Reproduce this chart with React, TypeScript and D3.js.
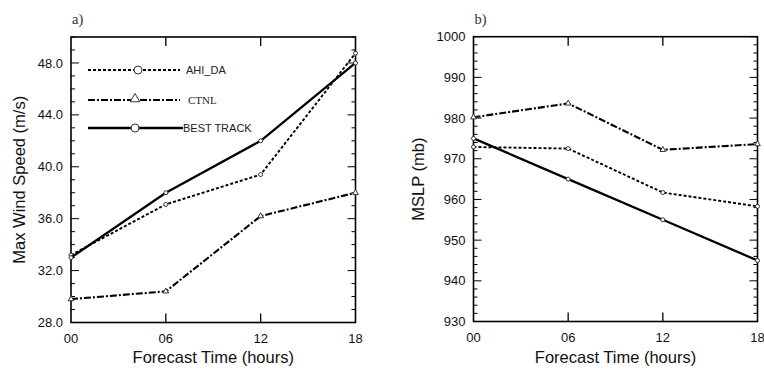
import React, { useRef, useEffect } from "react";
import * as d3 from "d3";

const hours = ["00", "06", "12", "18"];

// panel a) max wind speed (m/s)
const windAhi = [33.2, 37.1, 39.4, 48.75];
const windCtnl = [29.8, 30.4, 36.2, 38.0];
const windBest = [33.0, 38.0, 42.0, 48.0];
const windTicks = [28, 32, 36, 40, 44, 48];

// panel b) MSLP (mb)
const mslpAhi = [972.9, 972.5, 961.7, 958.3];
const mslpCtnl = [980.2, 983.6, 972.2, 973.6];
const mslpBest = [975, 965, 955, 945];
const mslpTicks = [930, 940, 950, 960, 970, 980, 990, 1000];

const legendNames = ["AHI_DA", "CTNL", "BEST TRACK"];

const SANS = "'Liberation Sans', Arial, sans-serif";
const SERIF = "'Liberation Serif', 'Times New Roman', serif";

const styles = [
  { dash: "3,2", width: 1.9, marker: "circle" },
  { dash: "7,2,2,2", width: 2.1, marker: "triangle" },
  { dash: null, width: 2.3, marker: "circle" },
];

function drawPanel(svg, opts) {
  const { left, right, top, bottom, yDomain, yTicks, minorStep, fmt, series, yTitle, tag, titleX, legend } = opts;
  const g = svg.append("g");
  const x = d3.scalePoint().domain(hours).range([left, right]);
  const y = d3.scaleLinear().domain(yDomain).range([bottom, top]);

  // minor ticks on both sides
  const minors = d3.range(yDomain[0], yDomain[1] + 1e-6, minorStep);
  minors.forEach((v) => {
    const major = yTicks.some((t) => Math.abs(t - v) < 1e-6);
    const len = major ? 8 : 4;
    g.append("line").attr("x1", left).attr("x2", left + len).attr("y1", y(v)).attr("y2", y(v))
      .attr("stroke", "#000").attr("stroke-width", 1);
    g.append("line").attr("x1", right).attr("x2", right - len).attr("y1", y(v)).attr("y2", y(v))
      .attr("stroke", "#000").attr("stroke-width", 1);
  });
  // x ticks inside top and bottom
  hours.slice(1, 3).forEach((h) => {
    g.append("line").attr("x1", x(h)).attr("x2", x(h)).attr("y1", bottom).attr("y2", bottom - 9)
      .attr("stroke", "#000").attr("stroke-width", 1.3);
    g.append("line").attr("x1", x(h)).attr("x2", x(h)).attr("y1", top).attr("y2", top + 9)
      .attr("stroke", "#000").attr("stroke-width", 1.3);
  });

  g.append("rect").attr("x", left).attr("y", top).attr("width", right - left).attr("height", bottom - top)
    .attr("fill", "none").attr("stroke", "#000").attr("stroke-width", 1.6);

  // tick labels
  yTicks.forEach((t) => {
    g.append("text").attr("x", left - 8).attr("y", y(t)).attr("dy", "0.35em").attr("text-anchor", "end")
      .attr("font-family", SANS).attr("font-size", 13).attr("fill", "#111").text(fmt(t));
  });
  hours.forEach((h) => {
    g.append("text").attr("x", x(h)).attr("y", bottom + 16).attr("dy", "0.35em").attr("text-anchor", "middle")
      .attr("font-family", SANS).attr("font-size", 13).attr("fill", "#111").text(h);
  });

  g.append("text").attr("x", (left + right) / 2).attr("y", 363).attr("text-anchor", "middle")
    .attr("font-family", SANS).attr("font-size", 16.5).attr("fill", "#111").text("Forecast Time (hours)");
  g.append("text").attr("transform", `translate(${titleX},${(top + bottom) / 2}) rotate(-90)`)
    .attr("text-anchor", "middle").attr("dy", "0.35em")
    .attr("font-family", SANS).attr("font-size", 16.5).attr("fill", "#111").text(yTitle);
  g.append("text").attr("x", left + 1).attr("y", 24).attr("font-family", SERIF).attr("font-size", 14.5)
    .attr("fill", "#333").text(tag);

  const line = d3.line().x((d, i) => x(hours[i])).y((d) => y(d));
  series.forEach((vals, si) => {
    const s = styles[si];
    const p = g.append("path").attr("d", line(vals)).attr("fill", "none").attr("stroke", "#000")
      .attr("stroke-width", s.width).attr("stroke-linejoin", "round");
    if (s.dash) p.attr("stroke-dasharray", s.dash);
    vals.forEach((v, i) => {
      if (s.marker === "circle") {
        g.append("circle").attr("cx", x(hours[i])).attr("cy", y(v)).attr("r", 2)
          .attr("fill", "#fff").attr("stroke", "#333").attr("stroke-width", 1);
      } else {
        const sym = d3.symbol().type(d3.symbolTriangle).size(14);
        g.append("path").attr("d", sym()).attr("transform", `translate(${x(hours[i])},${y(v)})`)
          .attr("fill", "#fff").attr("stroke", "#333").attr("stroke-width", 1);
      }
    });
  });

  if (legend) {
    const rows = [70, 100, 128];
    rows.forEach((ry, si) => {
      const s = styles[si];
      const x0 = 88, x1 = si === 2 ? 183 : 180;
      const p = g.append("line").attr("x1", x0).attr("x2", x1).attr("y1", ry).attr("y2", ry)
        .attr("stroke", "#000").attr("stroke-width", s.width);
      if (s.dash) p.attr("stroke-dasharray", s.dash);
      const mx = si === 0 ? 138 : 135;
      if (s.marker === "circle") {
        g.append("circle").attr("cx", mx).attr("cy", ry).attr("r", 4)
          .attr("fill", "#fff").attr("stroke", "#333").attr("stroke-width", 1);
      } else {
        const sym = d3.symbol().type(d3.symbolTriangle).size(40);
        g.append("path").attr("d", sym()).attr("transform", `translate(${mx},${ry - 1})`)
          .attr("fill", "#fff").attr("stroke", "#333").attr("stroke-width", 1);
      }
      g.append("text").attr("x", si === 1 ? 188 : si === 0 ? 186 : 183).attr("y", ry).attr("dy", "0.35em")
        .attr("font-family", si === 1 ? SERIF : SANS).attr("font-size", si === 1 ? 11 : 11)
        .attr("fill", "#222").text(legendNames[si]);
    });
  }
}

export default function App() {
  const ref = useRef<SVGSVGElement>(null);

  useEffect(() => {
    const svg = d3.select(ref.current);
    svg.selectAll("*").remove();
    drawPanel(svg, {
      left: 71, right: 355.5, top: 37, bottom: 322.5,
      yDomain: [28, 50], yTicks: windTicks, minorStep: 1, fmt: d3.format(".1f"),
      series: [windAhi, windCtnl, windBest], yTitle: "Max Wind Speed (m/s)", tag: "a)",
      titleX: 19, legend: true,
    });
    drawPanel(svg, {
      left: 473.5, right: 757.5, top: 36.7, bottom: 321.5,
      yDomain: [930, 1000], yTicks: mslpTicks, minorStep: 2, fmt: d3.format("d"),
      series: [mslpAhi, mslpCtnl, mslpBest], yTitle: "MSLP (mb)", tag: "b)",
      titleX: 418, legend: false,
    });
  }, []);

  return (
    <svg ref={ref} width={764} height={369}
      style={{ position: "absolute", left: 0, top: 0, background: "#fff" }} />
  );
}
